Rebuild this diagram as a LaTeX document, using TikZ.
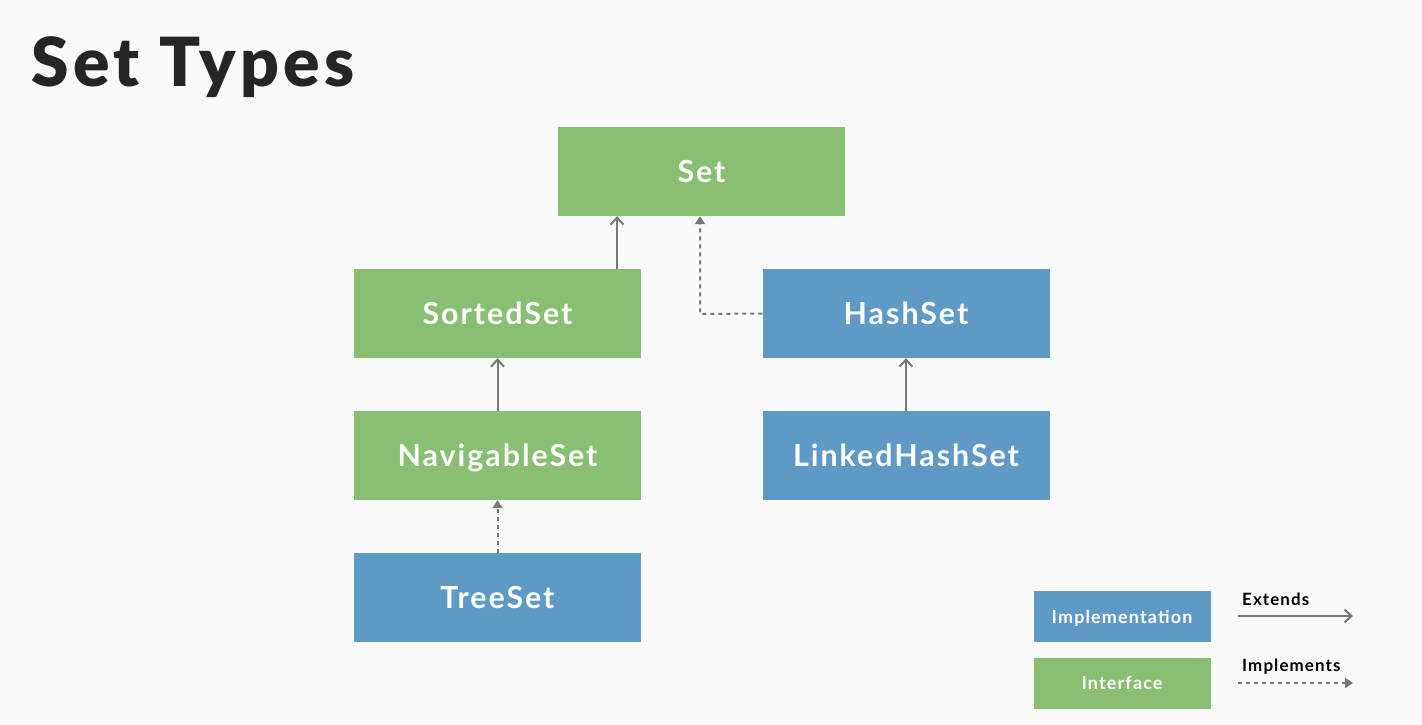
\documentclass[tikz,border=0pt]{standalone}
\usepackage{fontspec}
\setmainfont{Lato}[UprightFont=* Bold, LetterSpace=6.5]
\newfontfamily\titlefont{Lato Black}[LetterSpace=6.5]
\usetikzlibrary{arrows.meta}
\definecolor{ifgreen}{HTML}{88BF72}
\definecolor{implblue}{HTML}{5F9AC7}
\definecolor{arrowgray}{HTML}{777777}
\definecolor{bgcol}{HTML}{FAFAFA}
\definecolor{titlecol}{HTML}{252525}
\tikzset{
  box/.style={minimum width=287bp, minimum height=89bp, inner sep=0pt, text=white, text height=22bp, text depth=0pt, font=\fontsize{30.5}{34}\selectfont},
  ifbox/.style={box, fill=ifgreen},
  implbox/.style={box, fill=implblue},
  legbox/.style={minimum width=177bp, minimum height=51bp, inner sep=0pt, text=white, text height=13bp, text depth=0pt, font=\fontsize{18}{21}\selectfont},
  extarrow/.style={draw=arrowgray, line width=2bp, -{Straight Barb[length=7bp,width=13bp]}},
  imparrow/.style={draw=arrowgray, line width=2bp, dash pattern=on 4bp off 4bp, -{Triangle[length=8bp,width=10bp]}},
  legtext/.style={text=black, font=\fontsize{17}{20}\selectfont, inner sep=0pt}
}
\begin{document}
\begin{tikzpicture}[x=1bp, y=-1bp]
\fill[bgcol] (0,0) rectangle (1422,724);
\useasboundingbox (0,0) rectangle (1422,724);
\node[anchor=base west, text=titlecol, font=\titlefont\fontsize{68}{72}\selectfont, inner sep=0pt] (title) at (31,87) {Set Types};
\node[ifbox] (set) at (701.5,171.5) {Set};
\node[ifbox] (sorted) at (497.5,313.5) {SortedSet};
\node[implbox] (hash) at (906,313.5) {HashSet};
\node[ifbox] (nav) at (497.5,455.5) {NavigableSet};
\node[implbox] (linked) at (906,455.5) {LinkedHashSet};
\node[implbox] (tree) at (497.5,597.5) {TreeSet};
\coordinate (bend) at (700,314);
\draw[extarrow] (sorted.north -| 617,0) -- (set.south -| 617,0);
\draw[imparrow] (hash.west) -- (bend) -- (set.south -| bend);
\draw[extarrow] (nav.north) -- (sorted.south);
\draw[imparrow] (tree.north) -- (nav.south);
\draw[extarrow] (linked.north) -- (hash.south);
\node[legbox, fill=implblue] (limpl) at (1122,616.5) {Implementation};
\node[legbox, fill=ifgreen] (lif) at (1122,683) {Interface};
\coordinate (e1) at (1238,616);
\coordinate (e2) at (1353,616);
\coordinate (i1) at (1238,683);
\coordinate (i2) at (1353,683);
\draw[extarrow] (e1) -- (e2);
\draw[imparrow] (i1) -- (i2);
\node[legtext, anchor=base west] (lext) at (1242,605) {Extends};
\node[legtext, anchor=base west] (limp) at (1242,671) {Implements};
\end{tikzpicture}
\end{document}
